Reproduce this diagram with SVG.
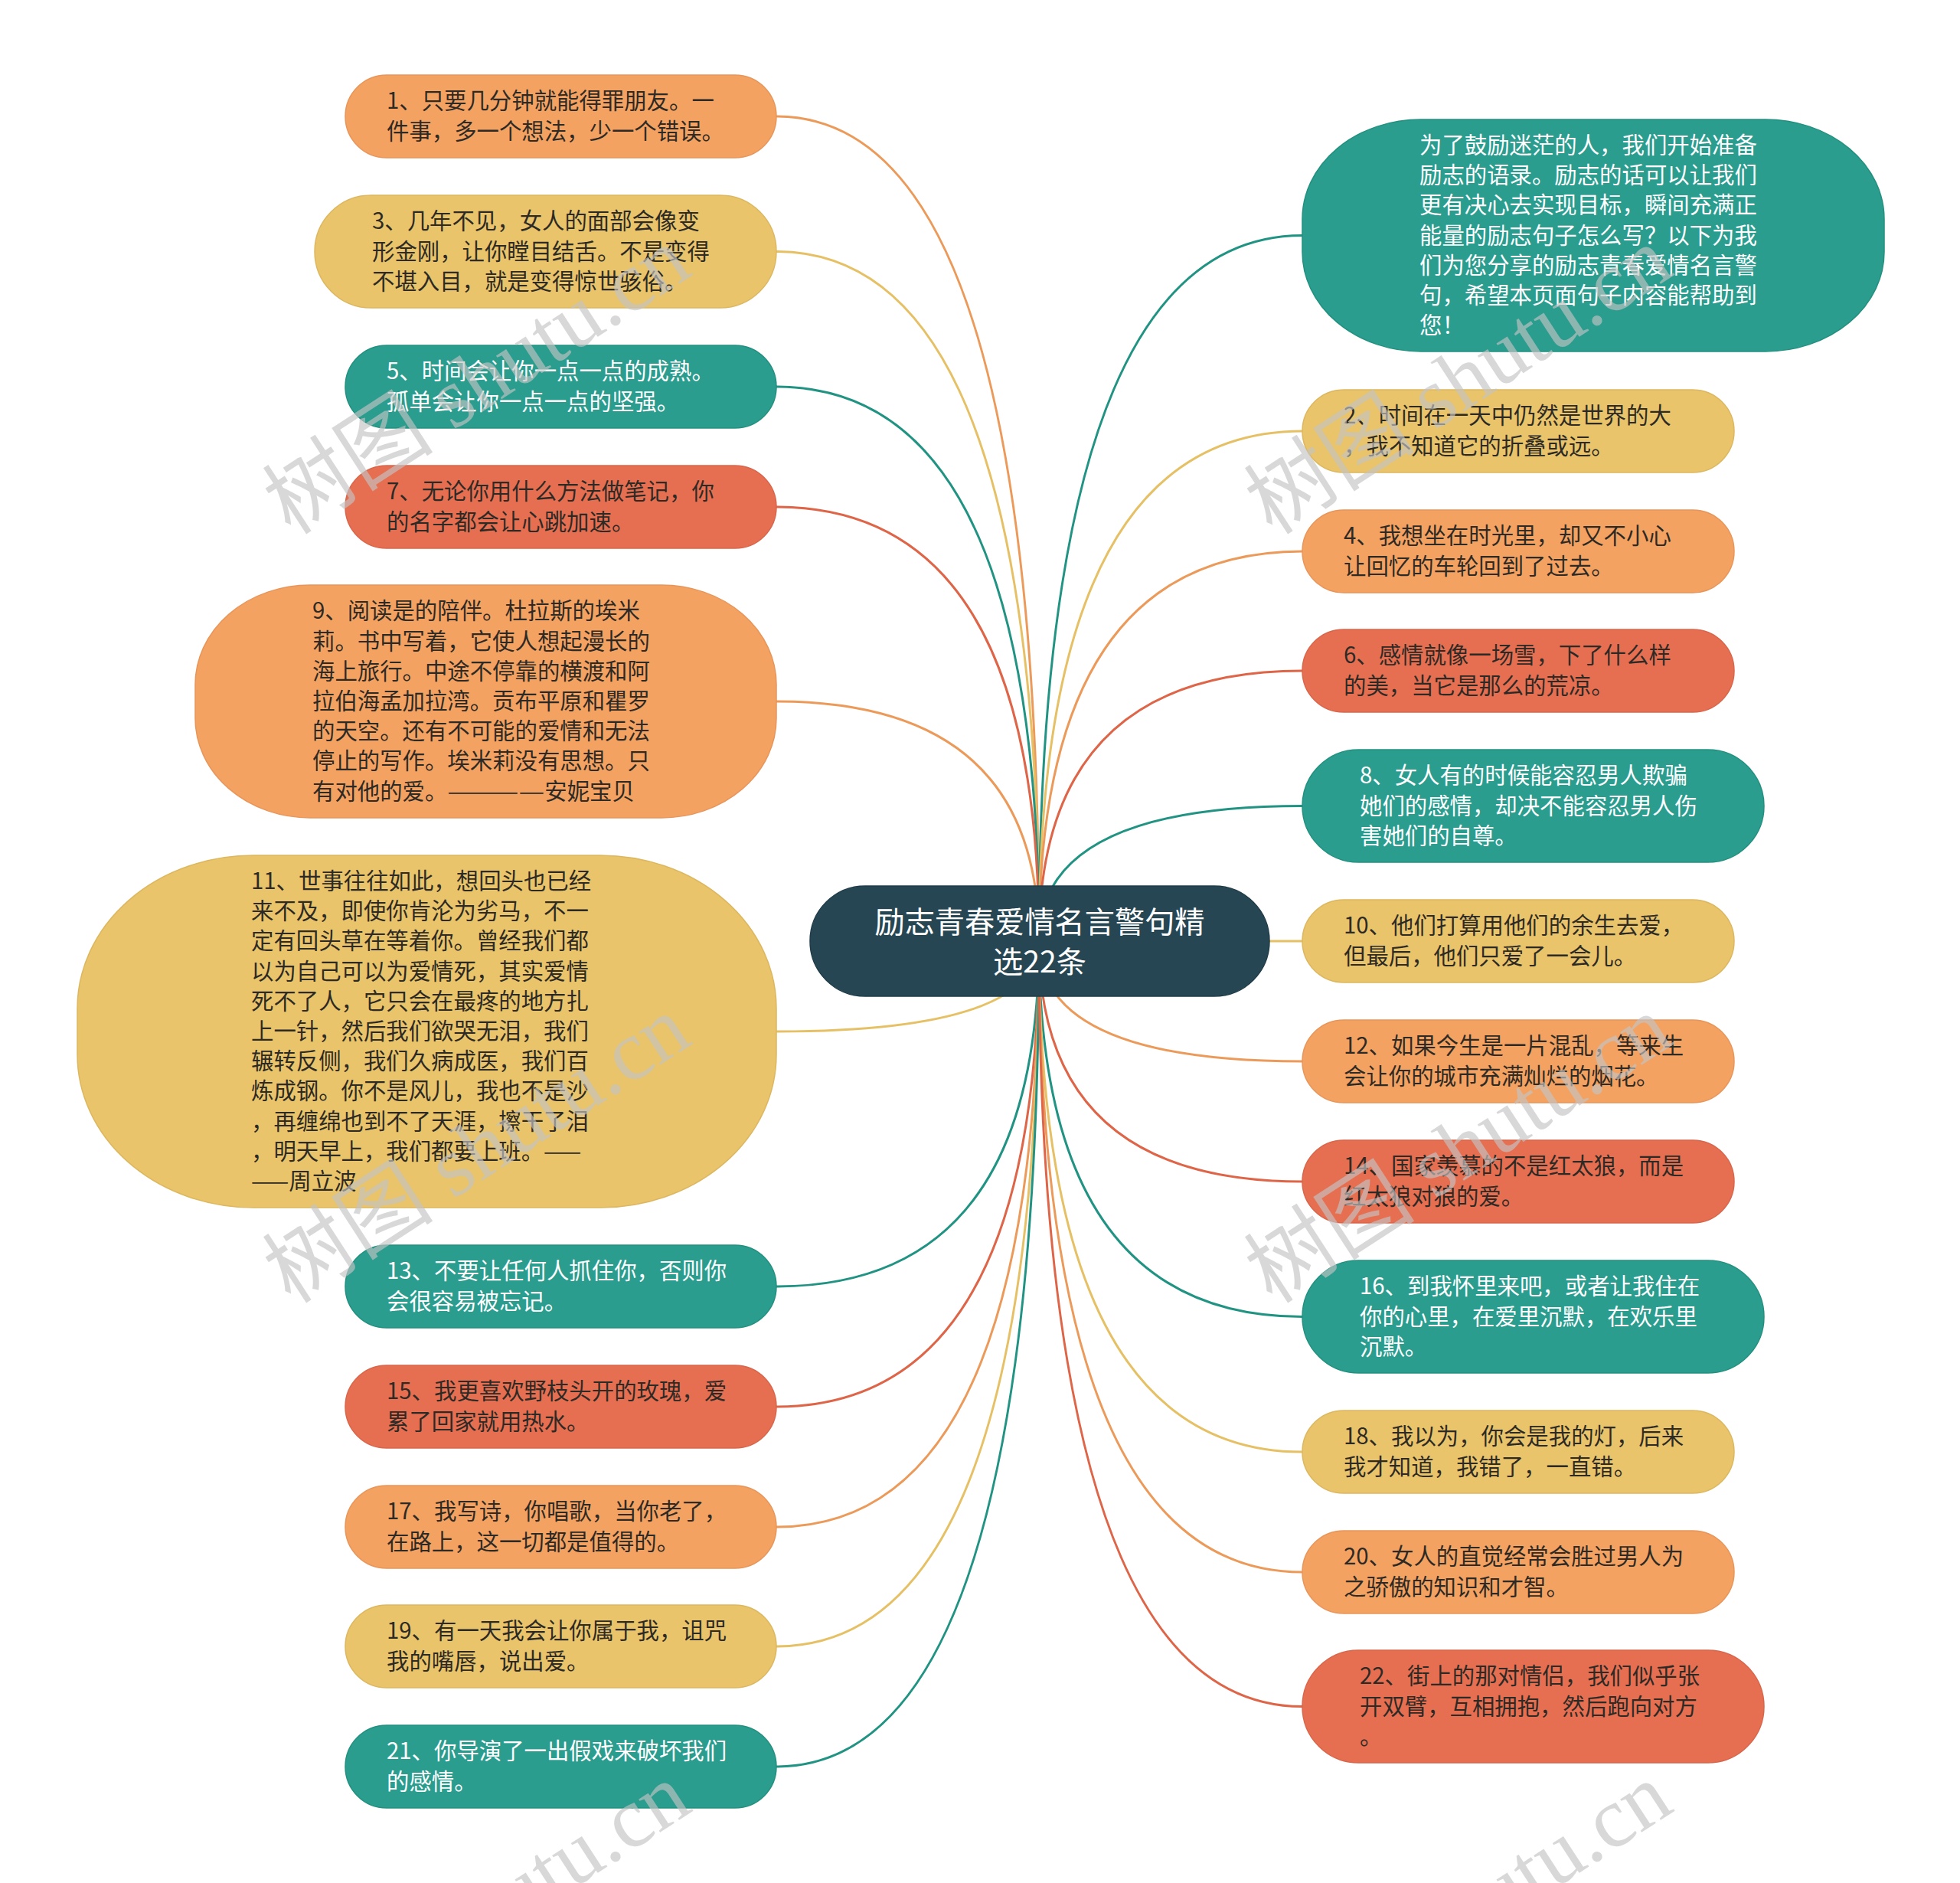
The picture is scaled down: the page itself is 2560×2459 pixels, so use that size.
<svg xmlns="http://www.w3.org/2000/svg" width="2560" height="2459" viewBox="0 0 2560 2459">
<style>
.t{font-family:"Noto Sans CJK SC","Noto Sans",sans-serif;font-size:29.4px;fill:#2d2a26}
.w{fill:#ffffff}
.c{font-family:"Noto Sans CJK SC","Noto Sans",sans-serif;font-size:39.2px;fill:#ffffff;text-anchor:middle}
.or{fill:#F4A261;stroke:#E8955A;stroke-width:1.5}
.ye{fill:#E9C46A;stroke:#DDB75F;stroke-width:1.5}
.te{fill:#2A9D8F;stroke:#22907F;stroke-width:1.5}
.re{fill:#E76F51;stroke:#D9654A;stroke-width:1.5}
.lk{fill:none;stroke-width:3}
.lor{stroke:#EC9A5A}
.lye{stroke:#E6C064}
.lte{stroke:#219383}
.lre{stroke:#DE6548}
.wm{font-family:"Liberation Serif","Noto Sans CJK SC",serif;font-size:112px;fill:#c4c4c4;opacity:0.65}
</style>
<rect x="0" y="0" width="2560" height="2459" fill="#ffffff"/>
<g id="connectors">
<path class="lk lor" d="M1014,152 Q1357,152 1357,1229"/>
<path class="lk lye" d="M1014,328.5 Q1357,328.5 1357,1229"/>
<path class="lk lte" d="M1014,505 Q1357,505 1357,1229"/>
<path class="lk lre" d="M1014,662 Q1357,662 1357,1229"/>
<path class="lk lor" d="M1014,916 Q1357,916 1357,1229"/>
<path class="lk lye" d="M1014,1347 Q1357,1347 1357,1229"/>
<path class="lk lte" d="M1014,1680 Q1357,1680 1357,1229"/>
<path class="lk lre" d="M1014,1837 Q1357,1837 1357,1229"/>
<path class="lk lor" d="M1014,1994 Q1357,1994 1357,1229"/>
<path class="lk lye" d="M1014,2150 Q1357,2150 1357,1229"/>
<path class="lk lte" d="M1014,2307 Q1357,2307 1357,1229"/>
<path class="lk lte" d="M1701,307.5 Q1357,307.5 1357,1229"/>
<path class="lk lye" d="M1701,563 Q1357,563 1357,1229"/>
<path class="lk lor" d="M1701,720 Q1357,720 1357,1229"/>
<path class="lk lre" d="M1701,876 Q1357,876 1357,1229"/>
<path class="lk lte" d="M1701,1052.5 Q1357,1052.5 1357,1229"/>
<path class="lk lye" d="M1701,1229 L1357,1229"/>
<path class="lk lor" d="M1701,1386 Q1357,1386 1357,1229"/>
<path class="lk lre" d="M1701,1543 Q1357,1543 1357,1229"/>
<path class="lk lte" d="M1701,1719.5 Q1357,1719.5 1357,1229"/>
<path class="lk lye" d="M1701,1896 Q1357,1896 1357,1229"/>
<path class="lk lor" d="M1701,2053 Q1357,2053 1357,1229"/>
<path class="lk lre" d="M1701,2228.5 Q1357,2228.5 1357,1229"/>
</g>
<g id="center">
<rect x="1058" y="1157" width="600" height="144" rx="72" ry="72" fill="#264653" stroke="#1f3c48" stroke-width="1.5"/>
<text class="c"><tspan x="1358" y="1218">励志青春爱情名言警句精</tspan><tspan x="1358" y="1270">选22条</tspan></text>
</g>
<g id="n1"><rect class="or" x="451" y="98" width="563" height="108" rx="54"/>
<text class="t"><tspan x="505" y="142.4">1、只要几分钟就能得罪朋友。一</tspan><tspan x="505" dy="39.2">件事，多一个想法，少一个错误。</tspan></text></g>
<g id="n3"><rect class="ye" x="411" y="255" width="603" height="147" rx="73.5"/>
<text class="t"><tspan x="486" y="299.3">3、几年不见，女人的面部会像变</tspan><tspan x="486" dy="39.2">形金刚，让你瞠目结舌。不是变得</tspan><tspan x="486" dy="39.2">不堪入目，就是变得惊世骇俗。</tspan></text></g>
<g id="n5"><rect class="te" x="451" y="451" width="563" height="108" rx="54"/>
<text class="t w"><tspan x="505" y="495.4">5、时间会让你一点一点的成熟。</tspan><tspan x="505" dy="39.2">孤单会让你一点一点的坚强。</tspan></text></g>
<g id="n7"><rect class="re" x="451" y="608" width="563" height="108" rx="54"/>
<text class="t"><tspan x="505" y="652.4">7、无论你用什么方法做笔记，你</tspan><tspan x="505" dy="39.2">的名字都会让心跳加速。</tspan></text></g>
<g id="n9"><rect class="or" x="255" y="764" width="759" height="304" rx="150" ry="130"/>
<text class="t"><tspan x="408" y="808.4">9、阅读是的陪伴。杜拉斯的埃米</tspan><tspan x="408" dy="39.2">莉。书中写着，它使人想起漫长的</tspan><tspan x="408" dy="39.2">海上旅行。中途不停靠的横渡和阿</tspan><tspan x="408" dy="39.2">拉伯海孟加拉湾。贡布平原和瞿罗</tspan><tspan x="408" dy="39.2">的天空。还有不可能的爱情和无法</tspan><tspan x="408" dy="39.2">停止的写作。埃米莉没有思想。只</tspan><tspan x="408" dy="39.2">有对他的爱。<tspan textLength="127" lengthAdjust="spacingAndGlyphs">————</tspan>安妮宝贝</tspan></text></g>
<g id="n11"><rect class="ye" x="101" y="1117" width="913" height="460" rx="230" ry="200"/>
<text class="t"><tspan x="328" y="1161">11、世事往往如此，想回头也已经</tspan><tspan x="328" dy="39.2">来不及，即使你肯沦为劣马，不一</tspan><tspan x="328" dy="39.2">定有回头草在等着你。曾经我们都</tspan><tspan x="328" dy="39.2">以为自己可以为爱情死，其实爱情</tspan><tspan x="328" dy="39.2">死不了人，它只会在最疼的地方扎</tspan><tspan x="328" dy="39.2">上一针，然后我们欲哭无泪，我们</tspan><tspan x="328" dy="39.2">辗转反侧，我们久病成医，我们百</tspan><tspan x="328" dy="39.2">炼成钢。你不是风儿，我也不是沙</tspan><tspan x="328" dy="39.2">，再缠绵也到不了天涯，擦干了泪</tspan><tspan x="328" dy="39.2">，明天早上，我们都要上班。——</tspan><tspan x="328" dy="39.2">——周立波</tspan></text></g>
<g id="n13"><rect class="te" x="451" y="1626" width="563" height="108" rx="54"/>
<text class="t w"><tspan x="505" y="1670.4">13、不要让任何人抓住你，否则你</tspan><tspan x="505" dy="39.2">会很容易被忘记。</tspan></text></g>
<g id="n15"><rect class="re" x="451" y="1783" width="563" height="108" rx="54"/>
<text class="t"><tspan x="505" y="1827.4">15、我更喜欢野枝头开的玫瑰，爱</tspan><tspan x="505" dy="39.2">累了回家就用热水。</tspan></text></g>
<g id="n17"><rect class="or" x="451" y="1940" width="563" height="108" rx="54"/>
<text class="t"><tspan x="505" y="1984.4">17、我写诗，你唱歌，当你老了，</tspan><tspan x="505" dy="39.2">在路上，这一切都是值得的。</tspan></text></g>
<g id="n19"><rect class="ye" x="451" y="2096" width="563" height="108" rx="54"/>
<text class="t"><tspan x="505" y="2140.4">19、有一天我会让你属于我，诅咒</tspan><tspan x="505" dy="39.2">我的嘴唇，说出爱。</tspan></text></g>
<g id="n21"><rect class="te" x="451" y="2253" width="563" height="108" rx="54"/>
<text class="t w"><tspan x="505" y="2297.4">21、你导演了一出假戏来破坏我们</tspan><tspan x="505" dy="39.2">的感情。</tspan></text></g>
<g id="intro"><rect class="te" x="1701" y="156" width="760" height="303" rx="155" ry="130"/>
<text class="t w"><tspan x="1854" y="199.9">为了鼓励迷茫的人，我们开始准备</tspan><tspan x="1854" dy="39.2">励志的语录。励志的话可以让我们</tspan><tspan x="1854" dy="39.2">更有决心去实现目标，瞬间充满正</tspan><tspan x="1854" dy="39.2">能量的励志句子怎么写？以下为我</tspan><tspan x="1854" dy="39.2">们为您分享的励志青春爱情名言警</tspan><tspan x="1854" dy="39.2">句，希望本页面句子内容能帮助到</tspan><tspan x="1854" dy="39.2">您！</tspan></text></g>
<g id="n2"><rect class="ye" x="1701" y="509" width="564" height="108" rx="54"/>
<text class="t"><tspan x="1755" y="553.4">2、时间在一天中仍然是世界的大</tspan><tspan x="1755" dy="39.2">，我不知道它的折叠或远。</tspan></text></g>
<g id="n4"><rect class="or" x="1701" y="666" width="564" height="108" rx="54"/>
<text class="t"><tspan x="1755" y="710.4">4、我想坐在时光里，却又不小心</tspan><tspan x="1755" dy="39.2">让回忆的车轮回到了过去。</tspan></text></g>
<g id="n6"><rect class="re" x="1701" y="822" width="564" height="108" rx="54"/>
<text class="t"><tspan x="1755" y="866.4">6、感情就像一场雪，下了什么样</tspan><tspan x="1755" dy="39.2">的美，当它是那么的荒凉。</tspan></text></g>
<g id="n8"><rect class="te" x="1701" y="979" width="603" height="147" rx="73.5"/>
<text class="t w"><tspan x="1776" y="1023.3">8、女人有的时候能容忍男人欺骗</tspan><tspan x="1776" dy="39.2">她们的感情，却决不能容忍男人伤</tspan><tspan x="1776" dy="39.2">害她们的自尊。</tspan></text></g>
<g id="n10"><rect class="ye" x="1701" y="1175" width="564" height="108" rx="54"/>
<text class="t"><tspan x="1755" y="1219.4">10、他们打算用他们的余生去爱，</tspan><tspan x="1755" dy="39.2">但最后，他们只爱了一会儿。</tspan></text></g>
<g id="n12"><rect class="or" x="1701" y="1332" width="564" height="108" rx="54"/>
<text class="t"><tspan x="1755" y="1376.4">12、如果今生是一片混乱，等来生</tspan><tspan x="1755" dy="39.2">会让你的城市充满灿烂的烟花。</tspan></text></g>
<g id="n14"><rect class="re" x="1701" y="1489" width="564" height="108" rx="54"/>
<text class="t"><tspan x="1755" y="1533.4">14、国家羡慕的不是红太狼，而是</tspan><tspan x="1755" dy="39.2">红太狼对狼的爱。</tspan></text></g>
<g id="n16"><rect class="te" x="1701" y="1646" width="603" height="147" rx="73.5"/>
<text class="t w"><tspan x="1776" y="1690.3">16、到我怀里来吧，或者让我住在</tspan><tspan x="1776" dy="39.2">你的心里，在爱里沉默，在欢乐里</tspan><tspan x="1776" dy="39.2">沉默。</tspan></text></g>
<g id="n18"><rect class="ye" x="1701" y="1842" width="564" height="108" rx="54"/>
<text class="t"><tspan x="1755" y="1886.4">18、我以为，你会是我的灯，后来</tspan><tspan x="1755" dy="39.2">我才知道，我错了，一直错。</tspan></text></g>
<g id="n20"><rect class="or" x="1701" y="1999" width="564" height="108" rx="54"/>
<text class="t"><tspan x="1755" y="2043.4">20、女人的直觉经常会胜过男人为</tspan><tspan x="1755" dy="39.2">之骄傲的知识和才智。</tspan></text></g>
<g id="n22"><rect class="re" x="1701" y="2155" width="603" height="147" rx="73.5"/>
<text class="t"><tspan x="1776" y="2199.3">22、街上的那对情侣，我们似乎张</tspan><tspan x="1776" dy="39.2">开双臂，互相拥抱，然后跑向对方</tspan><tspan x="1776" dy="39.2">。</tspan></text></g>
<g id="watermarks">
<text class="wm" x="380" y="700" transform="rotate(-33 380 700)">树图 shutu.cn</text>
<text class="wm" x="1662" y="700" transform="rotate(-33 1662 700)">树图 shutu.cn</text>
<text class="wm" x="380" y="1704" transform="rotate(-33 380 1704)">树图 shutu.cn</text>
<text class="wm" x="1662" y="1704" transform="rotate(-33 1662 1704)">树图 shutu.cn</text>
<text class="wm" x="380" y="2706" transform="rotate(-33 380 2706)">树图 shutu.cn</text>
<text class="wm" x="1662" y="2706" transform="rotate(-33 1662 2706)">树图 shutu.cn</text>
</g>
</svg>
